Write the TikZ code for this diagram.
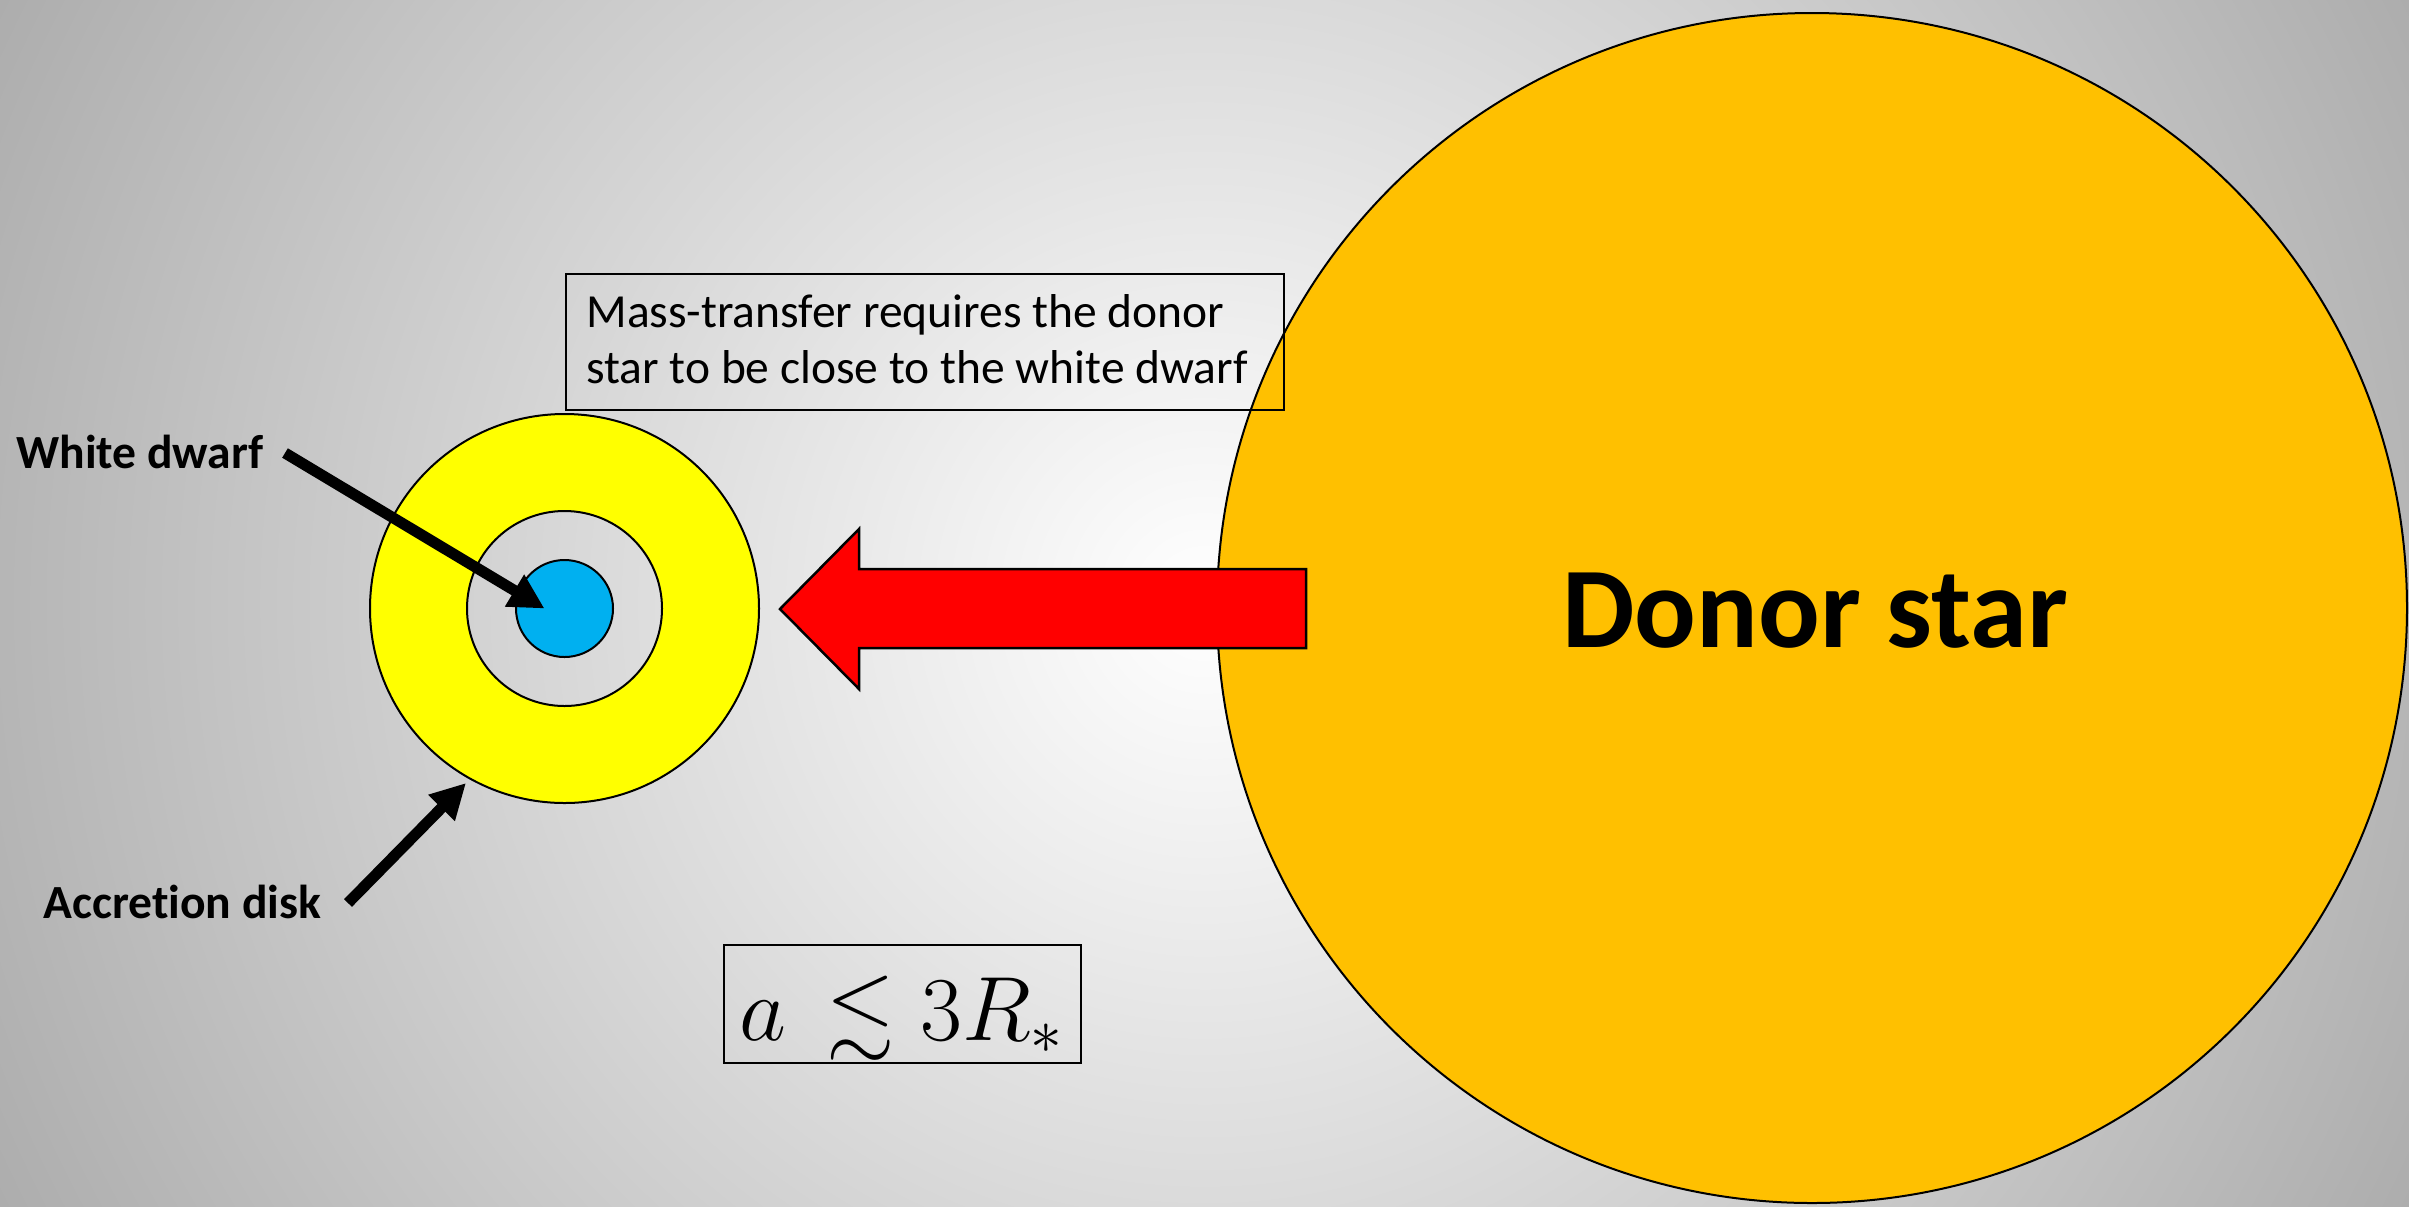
\documentclass[tikz,border=0pt]{standalone}
\usepackage{fontspec}
\usepackage{amssymb}
\usepackage{graphicx}
\usetikzlibrary{arrows.meta,calc}
\newfontfamily\calibri[Ligatures=NoCommon]{Carlito}
\definecolor{bgedge}{HTML}{ADADAD}
\definecolor{donorfill}{HTML}{FFC000}
\definecolor{diskyellow}{HTML}{FFFF00}
\definecolor{wdblue}{HTML}{00B0F0}
\definecolor{flowred}{HTML}{FF0000}
\pgfdeclareradialshading{bgshade}{\pgfpoint{0bp}{0bp}}{color(0bp)=(white); color(25bp)=(bgedge); color(50bp)=(bgedge)}
\begin{document}
\begin{tikzpicture}[x=0.5pt,y=-0.5pt,
  edgeline/.style={draw=black,line width=1pt},
  tagtext/.style={font=\calibri\bfseries\fontsize{23.8pt}{28pt}\selectfont, inner sep=0pt, anchor=base west},
  fatarrow/.style={line width=5.5pt, -{Triangle[length=17.5pt,width=17.5pt]}},
  framebox/.style={draw=black, line width=0.75pt, inner sep=0pt},
  orb/.style={circle, inner sep=0pt, edgeline},
]
\useasboundingbox (0,0) rectangle (2409,1206);
\begin{scope}
  \clip (0,0) rectangle (2409,1206);
  \shade[shading=bgshade] (1204.5,603) circle (1347);
\end{scope}

% donor star
\node[orb, fill=donorfill, minimum size=595pt] (donor) at (1812,608) {};
\node[font=\calibri\bfseries\fontsize{57.5pt}{60pt}\selectfont, anchor=base, inner sep=0pt] (donorlabel) at (1815,647) {Donor star};

% accretion disk and white dwarf
\path[fill=diskyellow, even odd rule] (564.5,608.5) circle (194.5) (564.5,608.5) circle (97.5);
\node[orb, minimum size=194.5pt] (disk) at (564.5,608.5) {};
\node[orb, minimum size=97.5pt] (gap) at (564.5,608.5) {};
\node[orb, fill=wdblue, minimum size=48.5pt] (wd) at (564.5,608.5) {};

% mass-transfer arrow
\draw[edgeline, line width=1.25pt, fill=flowred, line join=miter]
  (1306,569) -- (859,569) -- (859,529) -- (780,609) -- (859,689) -- (859,648) -- (1306,648) -- cycle;

% text box
\node[framebox, minimum width=359pt, minimum height=68pt, anchor=north west] (massbox) at (565,273) {};
\node[font=\calibri\fontsize{23.75pt}{28pt}\selectfont, anchor=base west, inner sep=0pt] (masstext) at (586,327)
  {\begin{tabular}[t]{@{}l@{}}Mass-transfer requires the donor\\ star to be close to the white dwarf\end{tabular}};

% formula box
\node[framebox, minimum width=178.5pt, minimum height=59pt] (formula) at (902.5,1004) {};
\node[anchor=base, inner sep=0pt] (formulatext) at (902,1040)
  {\scalebox{2.2}{\fontsize{20pt}{24pt}\selectfont$a\mskip3mu\lesssim 3R_{*}$}};

% labels and pointers
\node[tagtext] (wdlabel) at (16,468) {White dwarf};
\node[tagtext] (adlabel) at (43,918) {Accretion disk};
\coordinate (wdtail) at (285,453);
\coordinate (adtail) at (348,903);
\draw[fatarrow] (wdtail) -- ($(wd.center)+(-20,0)$);
\draw[fatarrow] (adtail) -- ($(disk.center)+(-98.5,174.5)$);
\end{tikzpicture}
\end{document}
